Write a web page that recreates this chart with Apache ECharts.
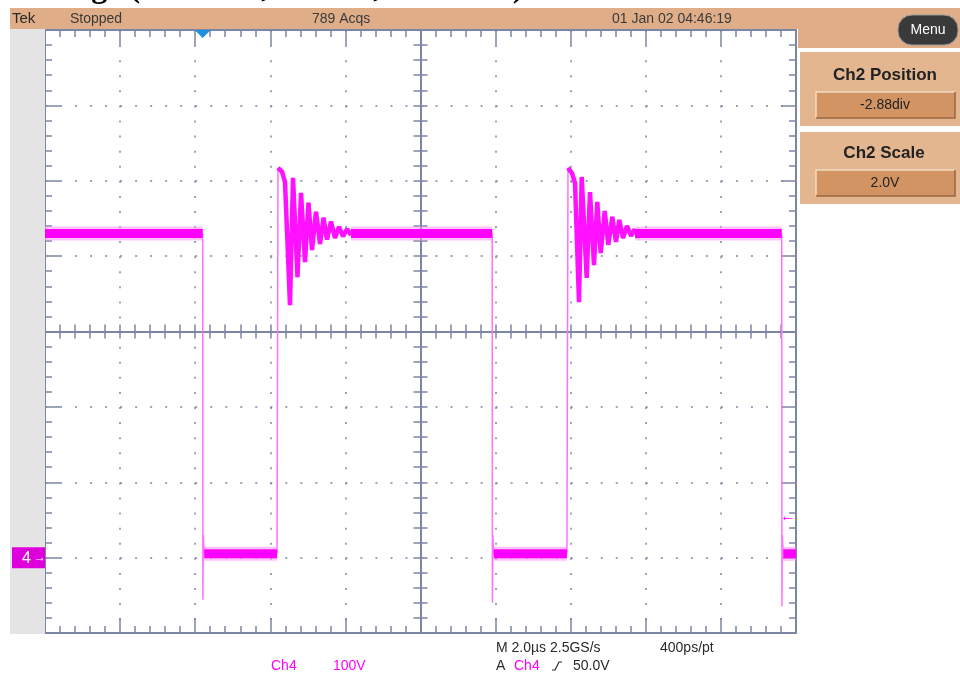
<!DOCTYPE html>
<html>
<head>
<meta charset="utf-8">
<script src="https://cdn.jsdelivr.net/npm/echarts@6/dist/echarts.min.js"></script>
<style>
html,body{margin:0;padding:0;background:#fff;}
#c{width:960px;height:675px;}
</style>
</head>
<body>
<div id="c"></div>
<script>
// ---- axes (Ch4: 100 V/div, time: 2 µs/div) ----
const timeRange = [0, 20];       // µs
const timeStep = 2;              // µs per division
const voltRange = [-100, 700];   // V
const voltStep = 100;            // V per division

// ---- read-off trace values [time µs, volts] ----
const segStart = [[0, 430], [4.20, 430], [4.205, -56], [4.215, 30], [4.24, 5], [6.18, 5]];
const ringing1 = [[6.205, 517], [6.312, 512], [6.392, 498], [6.525, 335], [6.605, 504], [6.724, 372],
  [6.818, 484], [6.924, 392], [7.017, 471], [7.111, 408], [7.217, 459], [7.324, 416], [7.417, 451],
  [7.510, 422], [7.617, 446], [7.723, 424], [7.830, 439], [7.936, 426], [8.043, 436], [8.149, 428]];
const segMiddle = [[8.30, 430], [11.91, 430], [11.915, -60], [11.925, 30], [11.95, 5], [13.90, 5]];
const ringing2 = [[13.928, 517], [14.035, 510], [14.115, 497], [14.221, 339], [14.293, 505], [14.426, 371],
  [14.514, 485], [14.620, 388], [14.708, 472], [14.799, 404], [14.906, 460], [15.001, 415], [15.108, 452],
  [15.206, 419], [15.294, 448], [15.393, 424], [15.499, 440], [15.606, 427], [15.712, 436]];
const segEnd = [[15.85, 430], [19.62, 430], [19.625, -65], [19.635, 30], [19.66, 5], [20, 5]];
// flat (noisy) plateaus: [from µs, to µs, level V]
const plateaus = [[0, 4.20, 430], [4.24, 6.18, 5], [8.149, 11.91, 430], [11.95, 13.90, 5], [15.712, 19.62, 430], [19.66, 20, 5]];

// ---- markers ----
const triggerTime = 4.2;   // µs
const triggerLevel = 50;   // V
const groundLevel = 0;     // V

const ch4Trace = [].concat(segStart, ringing1, segMiddle, ringing2, segEnd);

const gridColor = '#7d85a5';
const magenta = '#ff00ff';

function xAx(position, offset, inside, tickLen, minorLen, split) {
  return {
    type: 'value', position: position, offset: offset,
    min: timeRange[0], max: timeRange[1], interval: timeStep,
    axisLine: { show: true, onZero: false, lineStyle: { color: gridColor, width: 2 } },
    axisTick: { show: true, inside: inside, length: tickLen, lineStyle: { color: gridColor, width: 1.5 } },
    minorTick: { show: true, splitNumber: 5, length: minorLen, lineStyle: { color: gridColor, width: 1.5 } },
    axisLabel: { show: false },
    splitLine: { show: split, lineStyle: { color: gridColor, width: 1.5, type: [2, 13.08] } },
    minorSplitLine: { show: false },
    axisPointer: { show: false }
  };
}
function yAx(position, offset, inside, tickLen, minorLen, split) {
  return {
    type: 'value', position: position, offset: offset,
    min: voltRange[0], max: voltRange[1], interval: voltStep,
    axisLine: { show: true, onZero: false, lineStyle: { color: gridColor, width: 2 } },
    axisTick: { show: true, inside: inside, length: tickLen, lineStyle: { color: gridColor, width: 1.5 } },
    minorTick: { show: true, splitNumber: 5, length: minorLen, lineStyle: { color: gridColor, width: 1.5 } },
    axisLabel: { show: false },
    splitLine: { show: split, lineStyle: { color: gridColor, width: 1.5, type: [2, 13.02] } },
    minorSplitLine: { show: false },
    axisPointer: { show: false }
  };
}

const series = [];
// thin trace (edges) underneath
series.push({
  name: 'Ch4', type: 'line', xAxisIndex: 0, yAxisIndex: 0, data: ch4Trace,
  symbol: 'none', silent: true, z: 2, lineStyle: { color: '#ff70ff', width: 1.5 }
});
plateaus.forEach(function (p, i) {
  series.push({
    name: 'halo' + i, type: 'line', xAxisIndex: 0, yAxisIndex: 0,
    data: [[p[0], p[2]], [p[1], p[2]]],
    symbol: 'none', silent: true, z: 3,
    lineStyle: { color: '#ff90ff', width: 14, cap: 'butt', opacity: 0.55 }
  });
  series.push({
    name: 'band' + i, type: 'line', xAxisIndex: 0, yAxisIndex: 0,
    data: [[p[0], p[2]], [p[1], p[2]]],
    symbol: 'none', silent: true, z: 4,
    lineStyle: { color: magenta, width: 9, cap: 'butt' }
  });
});
series.push({
  name: 'ring1', type: 'line', xAxisIndex: 0, yAxisIndex: 0, data: ringing1,
  symbol: 'none', silent: true, z: 4, lineStyle: { color: '#ff10ff', width: 4.5 }
});
series.push({
  name: 'ring2', type: 'line', xAxisIndex: 0, yAxisIndex: 0, data: ringing2,
  symbol: 'none', silent: true, z: 4, lineStyle: { color: '#ff10ff', width: 4.5 }
});

const option = {
  animation: false,
  backgroundColor: '#ffffff',
  grid: { left: 45, top: 30, width: 751, height: 603, containLabel: false },
  xAxis: [
    xAx('bottom', 0, true, 15, 7, true),
    xAx('top', 0, true, 15, 7, false),
    xAx('bottom', -301.5, true, 7, 7, false),
    xAx('bottom', -301.5, false, 7, 7, false)
  ],
  yAxis: [
    yAx('left', 0, true, 15, 7, true),
    yAx('right', 0, true, 15, 7, false),
    yAx('left', -375.5, true, 7, 7, false),
    yAx('left', -375.5, false, 7, 7, false)
  ],
  series: series
};

const chart = echarts.init(document.getElementById('c'), null, { renderer: 'canvas' });
chart.setOption(option);

const yGround = chart.convertToPixel({ yAxisIndex: 0 }, groundLevel);
const yTrig = chart.convertToPixel({ yAxisIndex: 0 }, triggerLevel);
const xTrig = chart.convertToPixel({ xAxisIndex: 0 }, triggerTime);

const sans = '"Liberation Sans", Arial, sans-serif';
function txt(text, x, y, size, color, opts) {
  opts = opts || {};
  return {
    type: 'text', z: opts.z || 10,
    style: {
      text: text, x: x, y: y,
      font: (opts.weight || 'normal') + ' ' + size + 'px ' + (opts.family || sans),
      fill: color,
      align: opts.align || 'left', textAlign: opts.align || 'left',
      verticalAlign: opts.va || 'middle', textVerticalAlign: opts.va || 'middle'
    }
  };
}

const graphics = [
  // cropped document caption above the screen capture
  txt('n voltage (200V/div, 1us/div, No DWE):', -2, -11, 32, '#000', { weight: 'bold', family: '"Liberation Serif", "Times New Roman", serif', z: 1 }),
  // header bar
  { type: 'rect', z: 2, shape: { x: 10, y: 8, width: 950, height: 21 }, style: { fill: '#dfae88' } },
  { type: 'rect', z: 2, shape: { x: 798, y: 8, width: 162, height: 40 }, style: { fill: '#dfae88' } },
  // left gray strip
  { type: 'rect', z: 2, shape: { x: 10, y: 29, width: 35, height: 605 }, style: { fill: '#e4e4e4' } },
  // header texts
  txt('Tek', 12, 19, 15, '#2a2a2a'),
  txt('Stopped', 70, 19, 14, '#3a3a3a'),
  txt('789 Acqs', 312, 19, 14, '#3a3a3a'),
  txt('01 Jan 02 04:46:19', 612, 19, 14, '#3a3a3a'),
  // menu button
  { type: 'rect', z: 5, shape: { x: 898, y: 15, width: 60, height: 30, r: 14 }, style: { fill: '#3a3a3a', stroke: '#9a9a9a', lineWidth: 1 } },
  txt('Menu', 928, 30.5, 14, '#ffffff', { align: 'center' }),
  // Ch2 Position box
  { type: 'rect', z: 2, shape: { x: 800, y: 52, width: 160, height: 74 }, style: { fill: '#e3b690' } },
  { type: 'rect', z: 3, shape: { x: 816, y: 92, width: 139, height: 26 }, style: { fill: '#d39463' } },
  { type: 'polyline', z: 4, shape: { points: [[816, 118], [816, 92], [955, 92]] }, style: { stroke: '#f2dcc3', lineWidth: 1.5, fill: null } },
  { type: 'polyline', z: 4, shape: { points: [[816, 118], [955, 118], [955, 92]] }, style: { stroke: '#9a6640', lineWidth: 1.5, fill: null } },
  txt('Ch2 Position', 885, 75, 17, '#222', { align: 'center', weight: 'bold' }),
  txt('-2.88div', 885, 105.5, 14, '#222', { align: 'center' }),
  // Ch2 Scale box
  { type: 'rect', z: 2, shape: { x: 800, y: 132, width: 160, height: 72 }, style: { fill: '#e3b690' } },
  { type: 'rect', z: 3, shape: { x: 816, y: 170, width: 139, height: 26 }, style: { fill: '#d39463' } },
  { type: 'polyline', z: 4, shape: { points: [[816, 196], [816, 170], [955, 170]] }, style: { stroke: '#f2dcc3', lineWidth: 1.5, fill: null } },
  { type: 'polyline', z: 4, shape: { points: [[816, 196], [955, 196], [955, 170]] }, style: { stroke: '#9a6640', lineWidth: 1.5, fill: null } },
  txt('Ch2 Scale', 884, 153.5, 17, '#222', { align: 'center', weight: 'bold' }),
  txt('2.0V', 885, 183.5, 14, '#222', { align: 'center' }),
  // trigger position marker (top)
  { type: 'polygon', z: 10, shape: { points: [[xTrig - 8, 30], [xTrig + 8, 30], [xTrig, 38]] }, style: { fill: '#1f8fe0' } },
  // channel 4 ground marker (left)
  { type: 'rect', z: 6, shape: { x: 12, y: yGround - 10.5, width: 33, height: 21 }, style: { fill: '#dd00dd' } },
  txt('4', 22, yGround + 0.5, 16, '#ffffff', { z: 11 }),
  txt('\u2192', 34, yGround, 12, '#ffffff', { z: 11 }),
  // trigger level marker (right)
  txt('\u2190', 796, yTrig - 3, 16, magenta, { align: 'right', z: 11 }),
  // bottom readouts
  txt('Ch4', 271, 666, 14, magenta),
  txt('100V', 333, 666, 14, magenta),
  txt('M 2.0\u00b5s 2.5GS/s', 496, 648, 14, '#2a2a2a'),
  txt('400ps/pt', 660, 648, 14, '#2a2a2a'),
  txt('A', 496, 666, 14, '#2a2a2a'),
  txt('Ch4', 514, 666, 14, magenta),
  { type: 'polyline', z: 10, shape: { points: [[552, 670], [555, 670], [559, 662], [562, 662]] }, style: { stroke: '#2a2a2a', lineWidth: 1.2, fill: null } },
  txt('50.0V', 573, 666, 14, '#2a2a2a')
];

chart.setOption({ graphic: graphics });
</script>
</body>
</html>
